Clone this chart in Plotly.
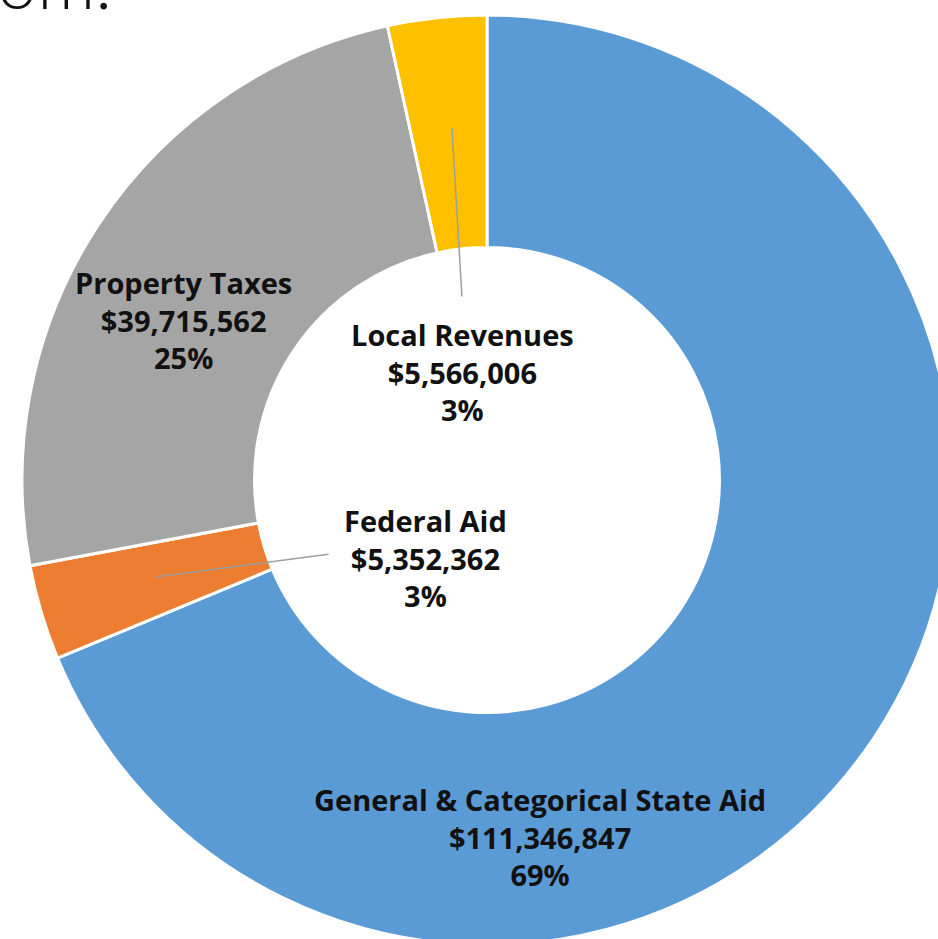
import plotly.graph_objects as go

# Revenue sources, in drawing order (clockwise from 12 o'clock)
labels = ["General & Categorical State Aid", "Federal Aid", "Property Taxes", "Local Revenues"]
values = [111346847, 5352362, 39715562, 5566006]
colors = ["#5B9BD5", "#ED7D31", "#A5A5A5", "#FFC000"]

# figure canvas (the reference is a crop, the ring runs off the right edge)
W, H = 974, 960
CX, CY, R = 487, 480, 465


def px(x):
    return x / W


def py(y):
    return 1 - y / H


fig = go.Figure(
    go.Pie(
        labels=labels,
        values=values,
        sort=False,
        direction="clockwise",
        hole=0.5,
        marker=dict(colors=colors, line=dict(color="white", width=3)),
        textinfo="none",
        hoverinfo="label+value+percent",
        domain=dict(x=[px(CX - R), px(CX + R)], y=[py(CY + R), py(CY - R)]),
        showlegend=False,
    )
)

total = sum(values)
label_pos = {  # label block centres, pixels
    "General & Categorical State Aid": (540, 837),
    "Federal Aid": (425, 558),
    "Property Taxes": (183, 320),
    "Local Revenues": (462, 372),
}
annotations = []
for name, val in zip(labels, values):
    x, y = label_pos[name]
    pct = round(val / total * 100)
    annotations.append(
        dict(
            x=px(x), y=py(y), xref="paper", yref="paper",
            xanchor="center", yanchor="middle",
            text=f"<b>{name}<br>${val:,}<br>{pct}%</b>",
            showarrow=False, align="center",
            font=dict(family="Open Sans", size=29, color="#111111"),
        )
    )

# leader lines from the small slices to their labels
leaders = [
    ((452, 128), (462, 298)),
    ((155, 577), (330, 554)),
]
for (x0, y0), (x1, y1) in leaders:
    annotations.append(
        dict(
            x=px(x0), y=py(y0), xref="paper", yref="paper",
            ax=x1 - x0, ay=y1 - y0, text="",
            showarrow=True, arrowhead=0, arrowwidth=1.5, arrowcolor="#9E9E9E",
            standoff=0, startstandoff=0,
        )
    )

# clipped remains of the slide title above the chart
annotations.append(
    dict(
        x=px(114), y=py(26), xref="paper", yref="paper",
        xanchor="right", yanchor="bottom", text="om.", showarrow=False,
        font=dict(family="Lato", size=72, color="#111111", weight=300),
    )
)

fig.update_layout(
    width=W, height=H,
    margin=dict(l=0, r=0, t=0, b=0),
    paper_bgcolor="white", plot_bgcolor="white",
    annotations=annotations,
)

# the chart is a crop: pin it to the page corner and hide the overflow
fig.write_html(
    "out.html",
    config={"displayModeBar": False},
    post_script=(
        "document.documentElement.style.overflow='hidden';"
        "document.body.style.overflow='hidden';"
        "document.body.style.margin='0';"
    ),
)
